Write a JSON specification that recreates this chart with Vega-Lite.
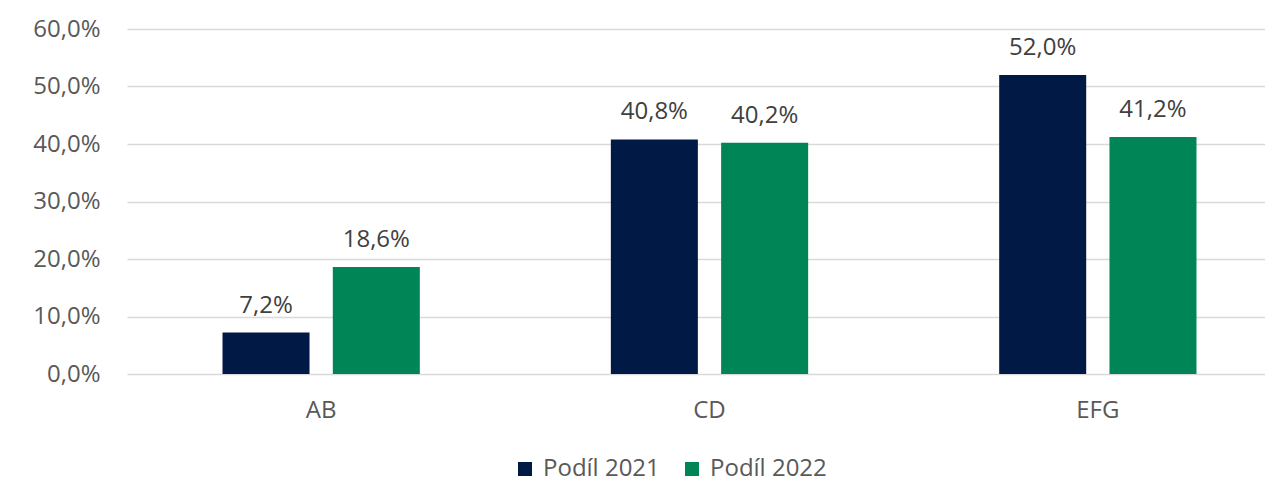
{
  "$schema": "https://vega.github.io/schema/vega-lite/v6.json",
  "autosize": {"type": "none"},
  "padding": {"left": 127, "top": 29, "right": 0, "bottom": 107},
  "width": 1138,
  "height": 345,
  "background": "white",
  "config": {
    "locale": {"number": {"decimal": ",", "thousands": " ", "grouping": [3], "currency": ["", " Kč"]}},
    "font": "Open Sans",
    "view": {"stroke": null}
  },
  "data": {
    "values": [
      {"kategorie": "AB", "serie": "Podíl 2021", "hodnota": 0.072},
      {"kategorie": "AB", "serie": "Podíl 2022", "hodnota": 0.186},
      {"kategorie": "CD", "serie": "Podíl 2021", "hodnota": 0.408},
      {"kategorie": "CD", "serie": "Podíl 2022", "hodnota": 0.402},
      {"kategorie": "EFG", "serie": "Podíl 2021", "hodnota": 0.520},
      {"kategorie": "EFG", "serie": "Podíl 2022", "hodnota": 0.412}
    ]
  },
  "encoding": {
    "x": {
      "field": "kategorie", "type": "nominal", "sort": ["AB", "CD", "EFG"],
      "scale": {"paddingInner": 0, "paddingOuter": 0, "range": [0, 1165]},
      "axis": {"title": null, "labelAngle": 0, "domain": false, "ticks": false, "labelPadding": 24, "labelFontSize": 24, "labelColor": "#595959", "labelFont": "Open Sans"}
    },
    "xOffset": {"field": "serie", "type": "nominal", "scale": {"paddingInner": 0.211, "paddingOuter": 0.866}},
    "y": {
      "field": "hodnota", "type": "quantitative",
      "scale": {"domain": [0, 0.6], "nice": false},
      "axis": {"title": null, "format": ".1%", "values": [0, 0.1, 0.2, 0.3, 0.4, 0.5, 0.6], "domain": false, "ticks": false, "labelPadding": 27, "labelFontSize": 24, "labelColor": "#595959", "gridColor": "#d9d9d9", "gridWidth": 1.5, "labelFont": "Open Sans"}
    }
  },
  "layer": [
    {
      "mark": {"type": "bar"},
      "encoding": {
        "color": {
          "field": "serie", "type": "nominal",
          "scale": {"domain": ["Podíl 2021", "Podíl 2022"], "range": ["#001a45", "#008556"]},
          "legend": {"title": null, "orient": "none", "direction": "horizontal", "legendX": 386, "legendY": 428, "symbolType": "square", "symbolSize": 196, "symbolStrokeWidth": 0, "labelFontSize": 24, "labelColor": "#595959", "labelOffset": 6, "labelLimit": 300, "columnPadding": 20, "labelFont": "Open Sans"}
        }
      }
    },
    {
      "mark": {"type": "text", "baseline": "alphabetic", "dy": -20, "fontSize": 24, "color": "#404040", "font": "Open Sans"},
      "encoding": {
        "text": {"field": "hodnota", "type": "quantitative", "format": ".1%"}
      }
    }
  ]
}
